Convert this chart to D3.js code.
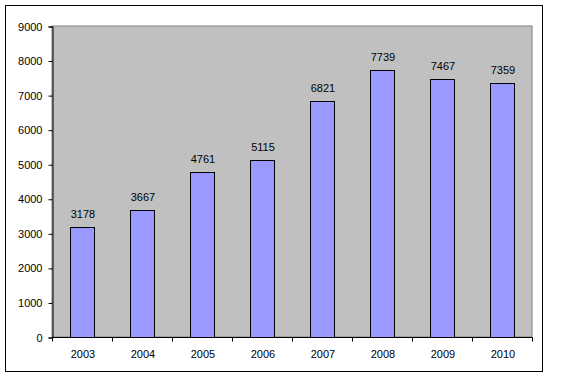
<!DOCTYPE html>
<html lang="en">
<head>
    <meta charset="UTF-8">
    <title>Chart</title>
    <script src="https://d3js.org/d3.v7.min.js"></script>
    <style>
        body { margin: 0; background: #fff; }
        text { font-family: Arial, "Liberation Sans", sans-serif; font-size: 11px; fill: #000; }
    </style>
</head>
<body>
<script type="text/javascript">
    var years = ["2003", "2004", "2005", "2006", "2007", "2008", "2009", "2010"];
    var values = [3178, 3667, 4761, 5115, 6821, 7739, 7467, 7359];
    var yTicks = [0, 1000, 2000, 3000, 4000, 5000, 6000, 7000, 8000, 9000];

    var svgWidth = 561;
    var svgHeight = 378;
    var plot = {left: 52, top: 26, right: 532, bottom: 337};

    var svg = d3.select("body").append("svg")
        .attr("width", svgWidth)
        .attr("height", svgHeight);

    // chart border
    svg.append("rect")
        .attr("x", 5.5).attr("y", 5.5)
        .attr("width", 537).attr("height", 366)
        .attr("fill", "#fff")
        .attr("stroke", "#000");

    var xScale = d3.scaleBand()
        .domain(years)
        .range([plot.left, plot.right])
        .paddingInner(0.6)
        .paddingOuter(0.3);

    var yScale = d3.scaleLinear()
        .domain([0, 9000])
        .range([plot.bottom, plot.top]);

    // plot area
    svg.append("rect")
        .attr("x", plot.left).attr("y", plot.top)
        .attr("width", plot.right - plot.left)
        .attr("height", plot.bottom - plot.top)
        .attr("fill", "#c0c0c0")
        .attr("stroke", "#808080");

    svg.append("g")
        .selectAll("rect")
        .data(values)
        .enter()
        .append("rect")
        .attr("x", function (d, i) { return Math.round(xScale(years[i])) + 0.5; })
        .attr("y", function (d) { return Math.round(yScale(d)) + 0.5; })
        .attr("width", Math.round(xScale.bandwidth()))
        .attr("height", function (d) { return Math.round(yScale(0)) - Math.round(yScale(d)); })
        .attr("fill", "#9999ff")
        .attr("stroke", "#000");

    svg.append("g")
        .selectAll("text")
        .data(values)
        .enter()
        .append("text")
        .text(function (d) { return d; })
        .attr("x", function (d, i) { return xScale(years[i]) + xScale.bandwidth() / 2 + 1; })
        .attr("y", function (d) { return yScale(d) - 9; })
        .attr("text-anchor", "middle");

    // y axis
    var yAxis = d3.axisLeft(yScale)
        .tickValues(yTicks)
        .tickFormat(d3.format("d"))
        .tickSize(4)
        .tickPadding(6);
    svg.append("g")
        .attr("class", "y axis")
        .attr("transform", "translate(" + (plot.left + 0.5) + ", 0.5)")
        .call(yAxis)
        .call(function (g) {
            g.selectAll("text").style("font-size", "11px").style("font-family", "Arial, 'Liberation Sans', sans-serif");
        });

    // x axis: ticks between categories
    var step = xScale.step();
    var xAxisG = svg.append("g")
        .attr("class", "x axis")
        .attr("transform", "translate(0, " + (plot.bottom + 0.5) + ")");
    xAxisG.append("line")
        .attr("x1", plot.left).attr("x2", plot.right + 0.5)
        .attr("stroke", "#000");
    xAxisG.selectAll(".tick")
        .data(d3.range(years.length + 1))
        .enter()
        .append("line")
        .attr("x1", function (i) { return Math.round(plot.left + i * step) + 0.5; })
        .attr("x2", function (i) { return Math.round(plot.left + i * step) + 0.5; })
        .attr("y1", 0).attr("y2", 4)
        .attr("stroke", "#000");
    xAxisG.selectAll("text")
        .data(years)
        .enter()
        .append("text")
        .text(function (d) { return d; })
        .attr("x", function (d) { return xScale(d) + xScale.bandwidth() / 2 + 1; })
        .attr("y", 20)
        .attr("text-anchor", "middle");
</script>
</body>
</html>
